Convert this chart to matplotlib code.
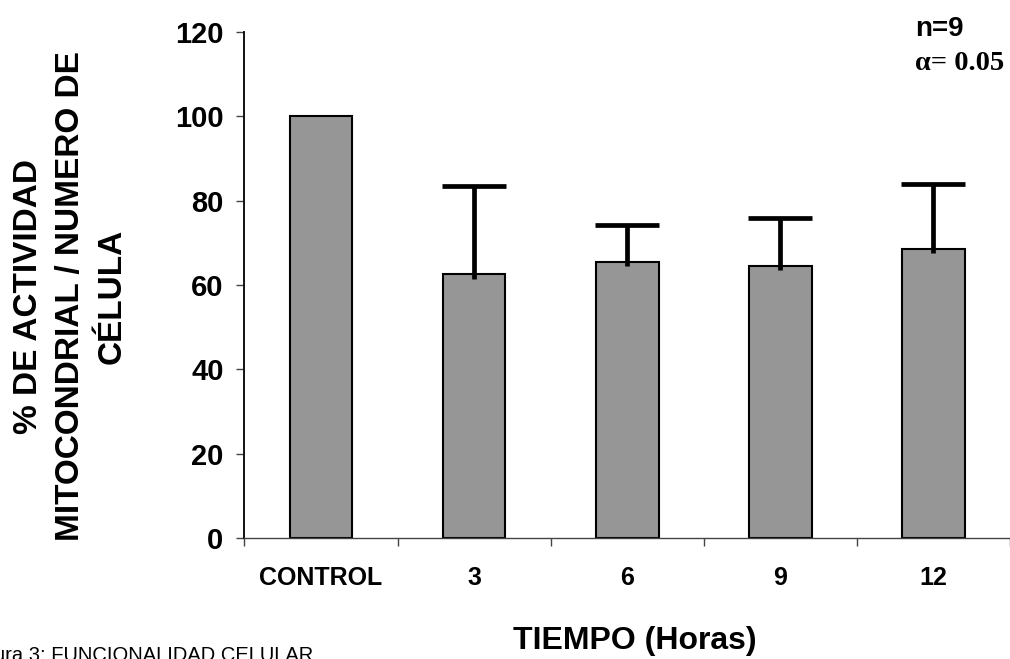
import matplotlib
matplotlib.use("Agg")
import matplotlib.pyplot as plt
import numpy as np

categories = ["CONTROL", "3", "6", "9", "12"]
values = [100, 62.5, 65.5, 64.5, 68.5]
err_upper = [0, 21.1, 8.7, 11.5, 15.5]
yticks = [0, 20, 40, 60, 80, 100, 120]

plt.rcParams['font.family'] = ['Liberation Sans', 'DejaVu Sans']

fig = plt.figure(figsize=(10.10, 6.59), dpi=100)
ax = fig.add_axes([0.2420, 0.1836, 0.7580, 0.7678])

x = np.arange(len(categories))
ax.bar(x, values, width=0.41, color='#969696', edgecolor='black', linewidth=1.5, zorder=2)
ex = [i for i in x if err_upper[i] > 0]
ev = [values[i] for i in ex]
eu = [err_upper[i] for i in ex]
_, caplines, _ = ax.errorbar(ex, ev, yerr=[[1.0] * len(ex), eu], fmt='none', ecolor='black',
                             elinewidth=3.4, capsize=23, capthick=3.4, zorder=3)
caplines[0].set_visible(False)

ax.set_xlim(-0.5, len(categories) - 0.5)
ax.set_ylim(0, 120)
ax.set_yticks(yticks)
ax.set_yticklabels([str(t) for t in yticks], fontsize=21, fontweight='bold')
ax.set_xticks(x)
ax.set_xticklabels(categories, fontsize=18, fontweight='bold')
ax.set_xticks(np.arange(-0.5, len(categories), 1.0), minor=True)
ax.tick_params(axis='x', which='major', length=0, pad=20)
ax.tick_params(axis='x', which='minor', length=6, width=1, color='#444444', direction='out')
ax.tick_params(axis='y', length=6, width=1, color='#444444', direction='out', pad=9)
for s in ['top', 'right']:
    ax.spines[s].set_visible(False)
ax.spines['left'].set_linewidth(1.3)
ax.spines['left'].set_color('black')
ax.spines['bottom'].set_linewidth(1.0)
ax.spines['bottom'].set_color('#444444')

fig.text(0.0695, 0.550, "% DE ACTIVIDAD\nMITOCONDRIAL / NUMERO DE\nCÉLULA", rotation=90,
         ha='center', va='center', fontsize=24, fontweight='bold', linespacing=1.46,
         multialignment='center')
fig.text(0.629, 0.027, "TIEMPO (Horas)", ha='center', va='center', fontsize=23, fontweight='bold')
fig.text(0.310, 0.006, "Figura 3: FUNCIONALIDAD CELULAR", ha='right', va='center', fontsize=14.5)
fig.text(0.906, 0.956, "n=9", ha='left', va='center', fontsize=20, fontweight='bold')
fig.text(0.906, 0.903, "α= 0.05", ha='left', va='center', fontsize=20.5, fontweight='bold',
         family=['Liberation Serif', 'DejaVu Serif'])

fig.savefig("out.png", dpi=100)
